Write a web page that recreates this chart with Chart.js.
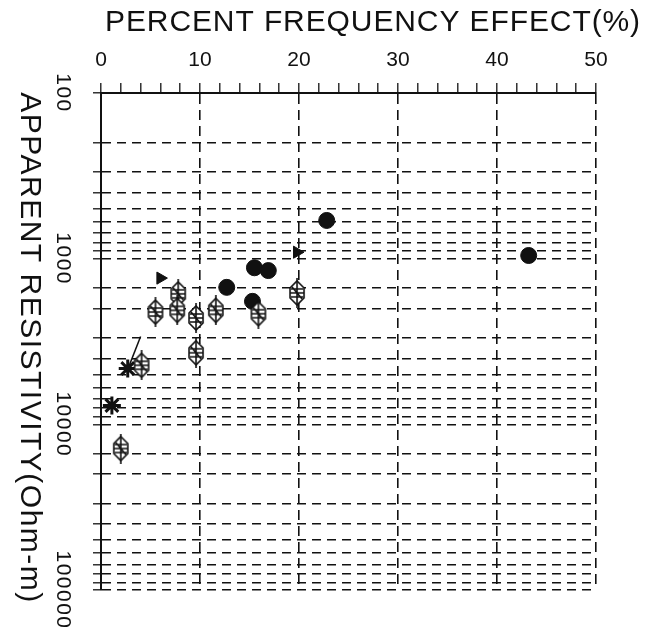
<!DOCTYPE html>
<html>
<head>
<meta charset="utf-8">
<script src="https://cdn.jsdelivr.net/npm/chart.js@4"></script>
<style>
  body { margin: 0; background: #fff; }
  #wrap { width: 654px; height: 640px; }
</style>
</head>
<body>
<div id="wrap"><canvas id="chart" width="654" height="640"></canvas></div>
<script>
// values
const diamondX = [7.8, 5.5, 7.7, 9.6, 11.6, 15.9, 19.8, 9.6, 4.1, 2.0];
const diamondY = [1630, 2100, 2050, 2280, 2050, 2150, 1610, 3700, 4400, 14000];
const circleX = [12.7, 15.5, 16.9, 15.3, 22.8, 43.2];
const circleY = [1490, 1135, 1180, 1810, 588, 957];
const triangleX = [6.0, 19.8];
const triangleY = [1310, 914];
const starX = [2.7, 1.1];
const starY = [4600, 7700];
const arrowX = [2.8, 4.0];
const arrowY = [4500, 2950];

const xTickLabels = [0, 10, 20, 30, 40, 50];
const yTickLabels = [100, 1000, 10000, 100000];

const xTitle = 'PERCENT FREQUENCY EFFECT(%)';
const yTitle = 'APPARENT RESISTIVITY(Ohm-m)';

const ink = '#111';
const fontName = "'Liberation Sans', Arial, sans-serif";

function pts(xs, ys) {
    return xs.map((x, i) => ({ x: x, y: ys[i] }));
}

// hatched diamond symbol
function makeDiamond() {
    const c = document.createElement('canvas');
    c.width = 18;
    c.height = 30;
    const g = c.getContext('2d');
    g.strokeStyle = ink;
    g.lineWidth = 1.6;
    g.beginPath();
    g.moveTo(9, 3); g.lineTo(16, 10); g.lineTo(16, 20);
    g.lineTo(9, 27); g.lineTo(2, 20); g.lineTo(2, 10);
    g.closePath();
    g.fillStyle = '#fff';
    g.fill();
    g.stroke();
    g.beginPath();
    g.moveTo(9, 0); g.lineTo(9, 30);
    g.moveTo(3, 11); g.lineTo(15, 11);
    g.moveTo(2, 15); g.lineTo(16, 15);
    g.moveTo(3, 19); g.lineTo(15, 19);
    g.moveTo(4, 9); g.lineTo(14, 21);
    g.stroke();
    return c;
}

const textPlugin = {
    id: 'axisText',
    afterDraw(chart) {
        const ctx = chart.ctx;
        const yScale = chart.scales.y;
        ctx.save();
        ctx.fillStyle = ink;
        ctx.textAlign = 'center';
        ctx.textBaseline = 'middle';

        ctx.letterSpacing = '0.9px';
        ctx.font = '30px ' + fontName;
        ctx.fillText(xTitle, 373, 23);

        ctx.letterSpacing = '1.5px';
        ctx.font = '21px ' + fontName;
        yTickLabels.forEach(v => {
            const py = yScale.getPixelForValue(v);
            ctx.save();
            ctx.translate(63, py);
            ctx.rotate(Math.PI / 2);
            ctx.fillText(String(v), 0, 0);
            ctx.restore();
        });

        ctx.font = '30px ' + fontName;
        ctx.translate(29, 348);
        ctx.rotate(Math.PI / 2);
        ctx.fillText(yTitle, 0, 0);
        ctx.restore();
    }
};

const diamond = makeDiamond();

new Chart(document.getElementById('chart').getContext('2d'), {
    type: 'scatter',
    data: {
        datasets: [
            {
                data: pts(diamondX, diamondY),
                pointStyle: diamond,
                pointRadius: 9
            },
            {
                data: pts(circleX, circleY),
                pointStyle: 'circle',
                pointRadius: 8,
                backgroundColor: ink,
                borderColor: ink
            },
            {
                data: pts(triangleX, triangleY),
                pointStyle: 'triangle',
                rotation: 90,
                pointRadius: 7,
                backgroundColor: ink,
                borderColor: ink
            },
            {
                data: pts(starX, starY),
                pointStyle: 'star',
                pointRadius: 9,
                borderWidth: 3,
                backgroundColor: ink,
                borderColor: ink
            },
            {
                data: pts(arrowX, arrowY),
                showLine: true,
                pointRadius: 0,
                borderWidth: 1.5,
                borderColor: ink
            }
        ]
    },
    options: {
        responsive: false,
        animation: false,
        layout: {
            padding: { top: 38, left: 93, right: 58, bottom: 50 }
        },
        plugins: {
            legend: { display: false },
            tooltip: { enabled: false }
        },
        scales: {
            x: {
                type: 'linear',
                position: 'top',
                min: 0,
                max: 50,
                ticks: {
                    stepSize: 2,
                    padding: 12,
                    color: ink,
                    font: { family: fontName, size: 21, lineHeight: 1 },
                    maxRotation: 0,
                    autoSkip: false,
                    callback: v => (xTickLabels.includes(v) ? String(v) : '')
                },
                grid: {
                    color: c => (c.tick && c.tick.value % 10 === 0 ? ink : 'rgba(0,0,0,0)'),
                    lineWidth: 1.6,
                    tickColor: ink,
                    tickLength: 10,
                    tickWidth: 1.3
                },
                border: { display: true, color: ink, width: 2, dash: [10, 6] }
            },
            y: {
                type: 'logarithmic',
                reverse: true,
                min: 100,
                max: 100000,
                ticks: { display: false },
                grid: {
                    color: ink,
                    lineWidth: 1.6,
                    tickColor: ink,
                    tickLength: 8,
                    tickWidth: 1.3
                },
                border: { display: true, color: ink, width: 2, dash: [9, 6] }
            }
        }
    },
    plugins: [textPlugin]
});
</script>
</body>
</html>
